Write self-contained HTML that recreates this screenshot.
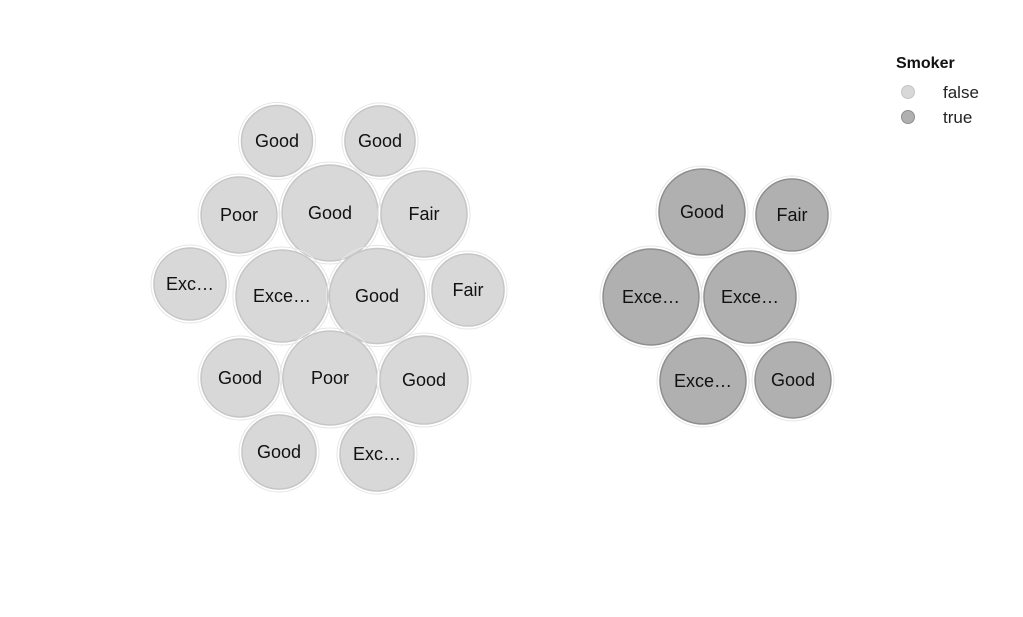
<!DOCTYPE html>
<html><head><meta charset="utf-8">
<style>
html,body{margin:0;padding:0;background:#fff;}
svg{display:block;}
svg text{font-family:"Liberation Sans",Arial,sans-serif;}
</style></head>
<body>
<svg id="chart" width="1023" height="617" viewBox="0 0 1023 617">
  <g id="bubbles"></g>
  <g>
    <text x="896" y="68" font-size="16" font-weight="bold" fill="#111">Smoker</text>
    <g>
      <circle cx="908" cy="92" r="6.5" fill="#d8d8d8" stroke="#c4c4c4"/>
      <text x="943" y="98" font-size="17" fill="#222">false</text>
    </g>
    <g>
      <circle cx="908" cy="117" r="6.5" fill="#b0b0b0" stroke="#8f8f8f"/>
      <text x="943" y="123" font-size="17" fill="#222">true</text>
    </g>
  </g>
</svg>
<script>
// bubble data
const labels = ["Good","Good","Poor","Good","Fair","Exc…","Exce…","Good","Fair","Good","Poor","Good","Good","Exc…",
                "Good","Fair","Exce…","Exce…","Exce…","Good"];
const smoker = [false,false,false,false,false,false,false,false,false,false,false,false,false,false,
                true,true,true,true,true,true];
const sizes = [12.6,12.3,14.4,23.0,18.5,13.0,21.2,22.6,13.0,15.2,22.1,19.4,13.7,13.7,
               18.5,13.0,23.0,21.2,18.5,14.4];
// layout positions from packing
const layoutX = [277,380,239,330,424,190,282,377,468,240,330,424,279,377, 702,792,651,750,703,793];
const layoutY = [141,141,215,213,214,284,296,296,290,378,378,380,452,454, 212,215,297,297,381,380];

const rScale = v => 10*Math.sqrt(v);
const NS = "http://www.w3.org/2000/svg";
const g = document.getElementById("bubbles");
for (let i = 0; i < labels.length; i++) {
  const r = rScale(sizes[i]);
  const grp = document.createElementNS(NS, "g");
  
  
  const halo = document.createElementNS(NS, "circle");
  halo.setAttribute("cx", layoutX[i]); halo.setAttribute("cy", layoutY[i]);
  halo.setAttribute("r", r + 3);
  halo.setAttribute("fill", "none"); halo.setAttribute("stroke", "#e6e6e6"); halo.setAttribute("stroke-width", "1");
  grp.appendChild(halo);
  const c = document.createElementNS(NS, "circle");
  c.setAttribute("cx", layoutX[i]); c.setAttribute("cy", layoutY[i]); c.setAttribute("r", r);
  c.setAttribute("fill", smoker[i] ? "#b0b0b0" : "#d8d8d8");
  c.setAttribute("stroke", smoker[i] ? "#8e8e8e" : "#c6c6c6");
  c.setAttribute("stroke-width", "1.5");
  grp.appendChild(c);
  const t = document.createElementNS(NS, "text");
  t.setAttribute("x", layoutX[i]); t.setAttribute("y", layoutY[i] + 6);
  t.setAttribute("text-anchor", "middle"); t.setAttribute("font-size", "18"); t.setAttribute("fill", "#111");
  t.textContent = labels[i];
  grp.appendChild(t);
  g.appendChild(grp);
}
</script>
</body></html>
